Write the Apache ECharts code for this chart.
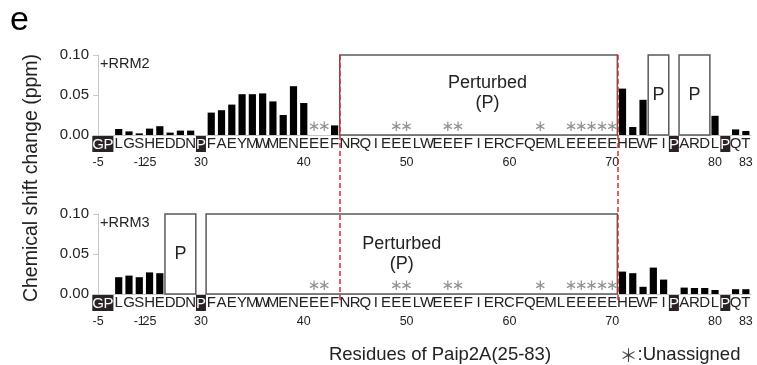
<!DOCTYPE html>
<html>
<head>
<meta charset="utf-8">
<script src="https://cdn.jsdelivr.net/npm/echarts@6/dist/echarts.min.js"></script>
<style>
html, body { margin: 0; padding: 0; background: #fff; }
#chart { width: 757px; height: 365px; }
</style>
</head>
<body>
<div id="chart"></div>
<script>
// residues of the construct: GPLGS tag (-5..-1) then Paip2A 25-83
const residueNumbers = [-5, -4, -3, -2, -1].concat(Array.from({length: 59}, (_, i) => 25 + i))
const residueLetters = ['G','P','L','G','S','H','E','D','D','N','P',
    'F','A','E','Y','M','W','M','E','N','E','E','E','F',
    'N','R','Q','I','E','E','E','L','W','E','E','E','F','I','E','R','C','F','Q','E',
    'M','L','E','E','E','E','E','H','E','W','F','I','P','A','R','D','L','P','Q','T']
const highlighted = [-5, -4, 30, 76, 81]
const tickResidues = [-5, -1, 25, 30, 40, 50, 60, 70, 80, 83]
const unassigned = [41, 42, 49, 50, 54, 55, 63, 66, 67, 68, 69, 70]

// chemical shift change (ppm), null = no peak / proline / perturbed
const rrm2 = [null, null, 0.0075, 0.0045, 0.002, 0.008, 0.011, 0.003, 0.0055, 0.0055, null,
    0.028, 0.031, 0.038, 0.051, 0.051, 0.052, 0.042, 0.025, 0.061, 0.040, null, null, 0.012,
    null, null, null, null, null, null, null, null, null, null, null, null, null, null, null, null, null, null, null, null,
    null, null, null, null, null, null, null,
    0.058, 0.010, 0.044, null, null, null, null, null, null, 0.024, null, 0.007, 0.005]
const rrm3 = [null, null, 0.021, 0.023, 0.021, 0.027, 0.026, null, null, null, null,
    null, null, null, null, null, null, null, null, null, null, null, null, null,
    null, null, null, null, null, null, null, null, null, null, null, null, null, null, null, null, null, null, null, null,
    null, null, null, null, null, null, null,
    0.028, 0.026, 0.009, 0.033, 0.018, null, 0.008, 0.0075, 0.0075, 0.005, null, 0.006, 0.006]

// perturbed ranges [first residue, last residue, label]
const rrm2Boxes = [[44, 70, 'Perturbed\n(P)'], [74, 75, 'P'], [77, 79, 'P']]
const rrm3Boxes = [[27, 29, 'P'], [31, 70, 'Perturbed\n(P)']]
const dashedRange = [44, 70]

const panelNames = ['+RRM2', '+RRM3']
const panelValues = [rrm2, rrm3]
const panelBoxes = [rrm2Boxes, rrm3Boxes]
const panelTops = [55, 214]
const labelOffsets = {'Perturbed\n(P)': [[9, -2], [-10, 0]], 'P': [[0, 0], [0, 0]]}

const idxOf = r => residueNumbers.indexOf(r)
const font = 'Liberation Sans'
const axisGray = '#c8c8c8'

let chart = echarts.init(document.getElementById('chart'))

let grids = [], xAxes = [], yAxes = [], series = []
panelTops.forEach((top, p) => {
    grids.push({left: 93, right: 6, top: top, height: 80})
    // letters
    xAxes.push({
        type: 'category', gridIndex: p, data: residueNumbers.map(String),
        axisLine: {lineStyle: {color: axisGray}},
        axisTick: {inside: true, length: 3, lineStyle: {color: axisGray}},
        axisLabel: {
            interval: 0, margin: 1,
            formatter: (v, i) => highlighted.includes(Number(v)) ? `{hl|${residueLetters[i]}}` : `{n|${residueLetters[i]}}`,
            rich: {
                n: {fontSize: 15, color: '#222', fontFamily: font},
                hl: {fontSize: 15, color: '#fff', fontFamily: font, backgroundColor: '#2b2323', padding: [1, 0, 0, 0]}
            }
        }
    })
    // residue numbers
    xAxes.push({
        type: 'category', gridIndex: p, position: 'bottom', data: residueNumbers.map(String),
        axisLine: {show: false}, axisTick: {show: false},
        axisLabel: {
            interval: 0, margin: 21, fontSize: 12.5, color: '#222',
            formatter: v => tickResidues.includes(Number(v)) ? v : ''
        }
    })
    // hidden value axis for boxes and asterisks
    xAxes.push({type: 'value', gridIndex: p, min: -0.5, max: residueNumbers.length - 0.5, show: false})
    yAxes.push({
        type: 'value', gridIndex: p, min: 0, max: 0.1, interval: 0.05,
        axisLine: {show: true, lineStyle: {color: axisGray}},
        axisTick: {show: true, length: 5, lineStyle: {color: axisGray}},
        splitLine: {show: false},
        axisLabel: {fontSize: 15, color: '#222', margin: 4, formatter: v => v.toFixed(2)}
    })

    series.push({
        name: panelNames[p], type: 'bar', xAxisIndex: 3 * p, yAxisIndex: p,
        data: panelValues[p].map(v => v === null ? '-' : v),
        barWidth: '70%', itemStyle: {color: '#000'}, silent: true
    })
    series.push({
        type: 'scatter', xAxisIndex: 3 * p + 2, yAxisIndex: p,
        data: unassigned.map(r => [idxOf(r), 0]),
        symbolSize: 0, silent: true,
        label: {show: true, position: 'top', distance: 0, formatter: '∗', fontSize: 15, color: '#777', fontFamily: 'DejaVu Sans'}
    })
    series.push({
        type: 'line', xAxisIndex: 3 * p + 2, yAxisIndex: p, data: [], silent: true,
        markArea: {
            silent: true,
            itemStyle: {color: 'rgba(0,0,0,0)', borderColor: '#5a5a5a', borderWidth: 1.5},
            label: {show: true, position: 'inside', fontSize: 18, color: '#222', lineHeight: 20, fontFamily: font},
            data: panelBoxes[p].map(b => [
                {xAxis: idxOf(b[0]) - 0.5, yAxis: 0, name: b[2], label: {offset: labelOffsets[b[2]][p]}},
                {xAxis: idxOf(b[1]) + 0.5, yAxis: 0.1}
            ])
        }
    })
})

// overlay grid for the red dashed lines across both panels
grids.push({left: 93, right: 6, top: 55, bottom: 65})
xAxes.push({type: 'value', gridIndex: 2, min: -0.5, max: residueNumbers.length - 0.5, show: false})
yAxes.push({type: 'value', gridIndex: 2, min: 0, max: 1, show: false})
series.push({
    type: 'line', xAxisIndex: 6, yAxisIndex: 2, data: [], silent: true,
    markLine: {
        silent: true, symbol: 'none', label: {show: false},
        lineStyle: {color: '#e8262d', type: [5, 3], width: 1.5},
        data: [{xAxis: idxOf(dashedRange[0]) - 0.5}, {xAxis: idxOf(dashedRange[1]) + 0.5}]
    }
})

let option = {
    animation: false,
    textStyle: {fontFamily: font},
    grid: grids,
    xAxis: xAxes,
    yAxis: yAxes,
    series: series,
    graphic: [
        {type: 'text', left: 10, top: 4, style: {text: 'e', fontSize: 34, fill: '#000', fontFamily: font}},
        {type: 'text', left: 100, top: 56, style: {text: panelNames[0], fontSize: 14.5, fill: '#222', fontFamily: font}},
        {type: 'text', left: 100, top: 215, style: {text: panelNames[1], fontSize: 14.5, fill: '#222', fontFamily: font}},
        {type: 'text', x: 32, y: 178, rotation: Math.PI / 2,
            style: {text: 'Chemical shift change (ppm)', fontSize: 19.5, fill: '#222', fontFamily: font, align: 'center', verticalAlign: 'middle'}},
        {type: 'text', x: 440, y: 355,
            style: {text: 'Residues of Paip2A(25-83)', fontSize: 18.5, fill: '#222', fontFamily: font, align: 'center', verticalAlign: 'middle'}},
        {type: 'text', x: 680, y: 355,
            style: {
                text: '{s|＊}:Unassigned', fontSize: 18.5, fill: '#222', fontFamily: font, align: 'center', verticalAlign: 'middle',
                rich: {s: {fontFamily: 'Noto Sans CJK SC', fontSize: 18, fill: '#444'}}
            }}
    ]
}
chart.setOption(option)
</script>
</body>
</html>
